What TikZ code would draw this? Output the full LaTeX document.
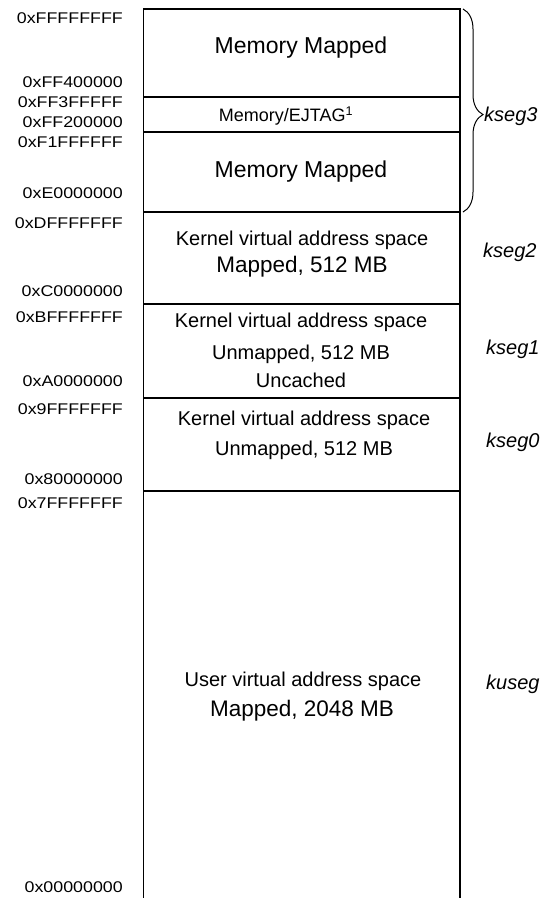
\documentclass[tikz,border=0pt]{standalone}
\usepackage{fontspec}
\setmainfont{Liberation Sans}
\newfontfamily\addrfont[FakeStretch=1.15]{Liberation Sans}
\usetikzlibrary{decorations.pathreplacing}

\begin{document}
\begin{tikzpicture}[x=1pt, y=-1pt,
    wall/.style={line width=1.2pt},
    addr/.style={font=\addrfont\fontsize{15.5}{18}\selectfont, anchor=mid east, inner sep=0pt},
    big/.style={font=\fontsize{23}{27}\selectfont, anchor=mid, inner sep=0pt},
    txt/.style={font=\fontsize{20}{24}\selectfont, anchor=mid, inner sep=0pt},
    small/.style={font=\fontsize{18}{21}\selectfont, anchor=mid, inner sep=0pt},
    seg/.style={font=\itshape\fontsize{20}{24}\selectfont, anchor=mid west, inner sep=0pt}]
  \useasboundingbox (0,0) rectangle (551,898);
  % box
  \draw[wall] (143.5,898) -- (143.5,9) -- (460,9) -- (460,898);
  \foreach \y in {97,132,212,304,398,491}
    \draw[wall] (143.5,\y) -- (460,\y);
  % addresses
  \foreach \y/\a in {21/FFFFFFFF, 85/FF400000, 105/FF3FFFFF, 125/FF200000,
      145/F1FFFFFF, 196/E0000000, 226/DFFFFFFF, 294/C0000000, 320/BFFFFFFF,
      384/A0000000, 412/9FFFFFFF, 482/80000000, 506/7FFFFFFF, 890/00000000}
    \node[addr] (a\a) at (123,\y) {0x\a};
  % regions
  \node[big] (mm1) at (301,51) {Memory Mapped};
  \node[small] (ejtag) at (286,119) {Memory/EJTAG\textsuperscript{1}};
  \node[big] (mm2) at (301,175) {Memory Mapped};
  \node[txt] (k2a) at (302,243) {Kernel virtual address space};
  \node[big, font=\fontsize{22.5}{26}\selectfont] (k2b) at (302,270) {Mapped, 512 MB};
  \node[txt] (k1a) at (301,325) {Kernel virtual address space};
  \node[txt] (k1b) at (301,357) {Unmapped, 512 MB};
  \node[txt] (k1c) at (301,385) {Uncached};
  \node[txt] (k0a) at (304,423) {Kernel virtual address space};
  \node[txt] (k0b) at (304,453) {Unmapped, 512 MB};
  \node[txt] (ua) at (303,684) {User virtual address space};
  \node[big, font=\fontsize{22.5}{26}\selectfont] (ub) at (302,714) {Mapped, 2048 MB};
  % segments
  \coordinate (b3top) at (463,9);
  \coordinate (b3bot) at (463,212);
  \draw[line width=1pt, decorate, decoration={brace, amplitude=20pt, aspect=0.52}] (b3top) -- (b3bot);
  \node[seg] (kseg3) at (484,119) {kseg3};
  \node[seg] (kseg2) at (483,255) {kseg2};
  \node[seg] (kseg1) at (486,352) {kseg1};
  \node[seg] (kseg0) at (486,445) {kseg0};
  \node[seg] (kuseg) at (486,687) {kuseg};
\end{tikzpicture}
\end{document}
